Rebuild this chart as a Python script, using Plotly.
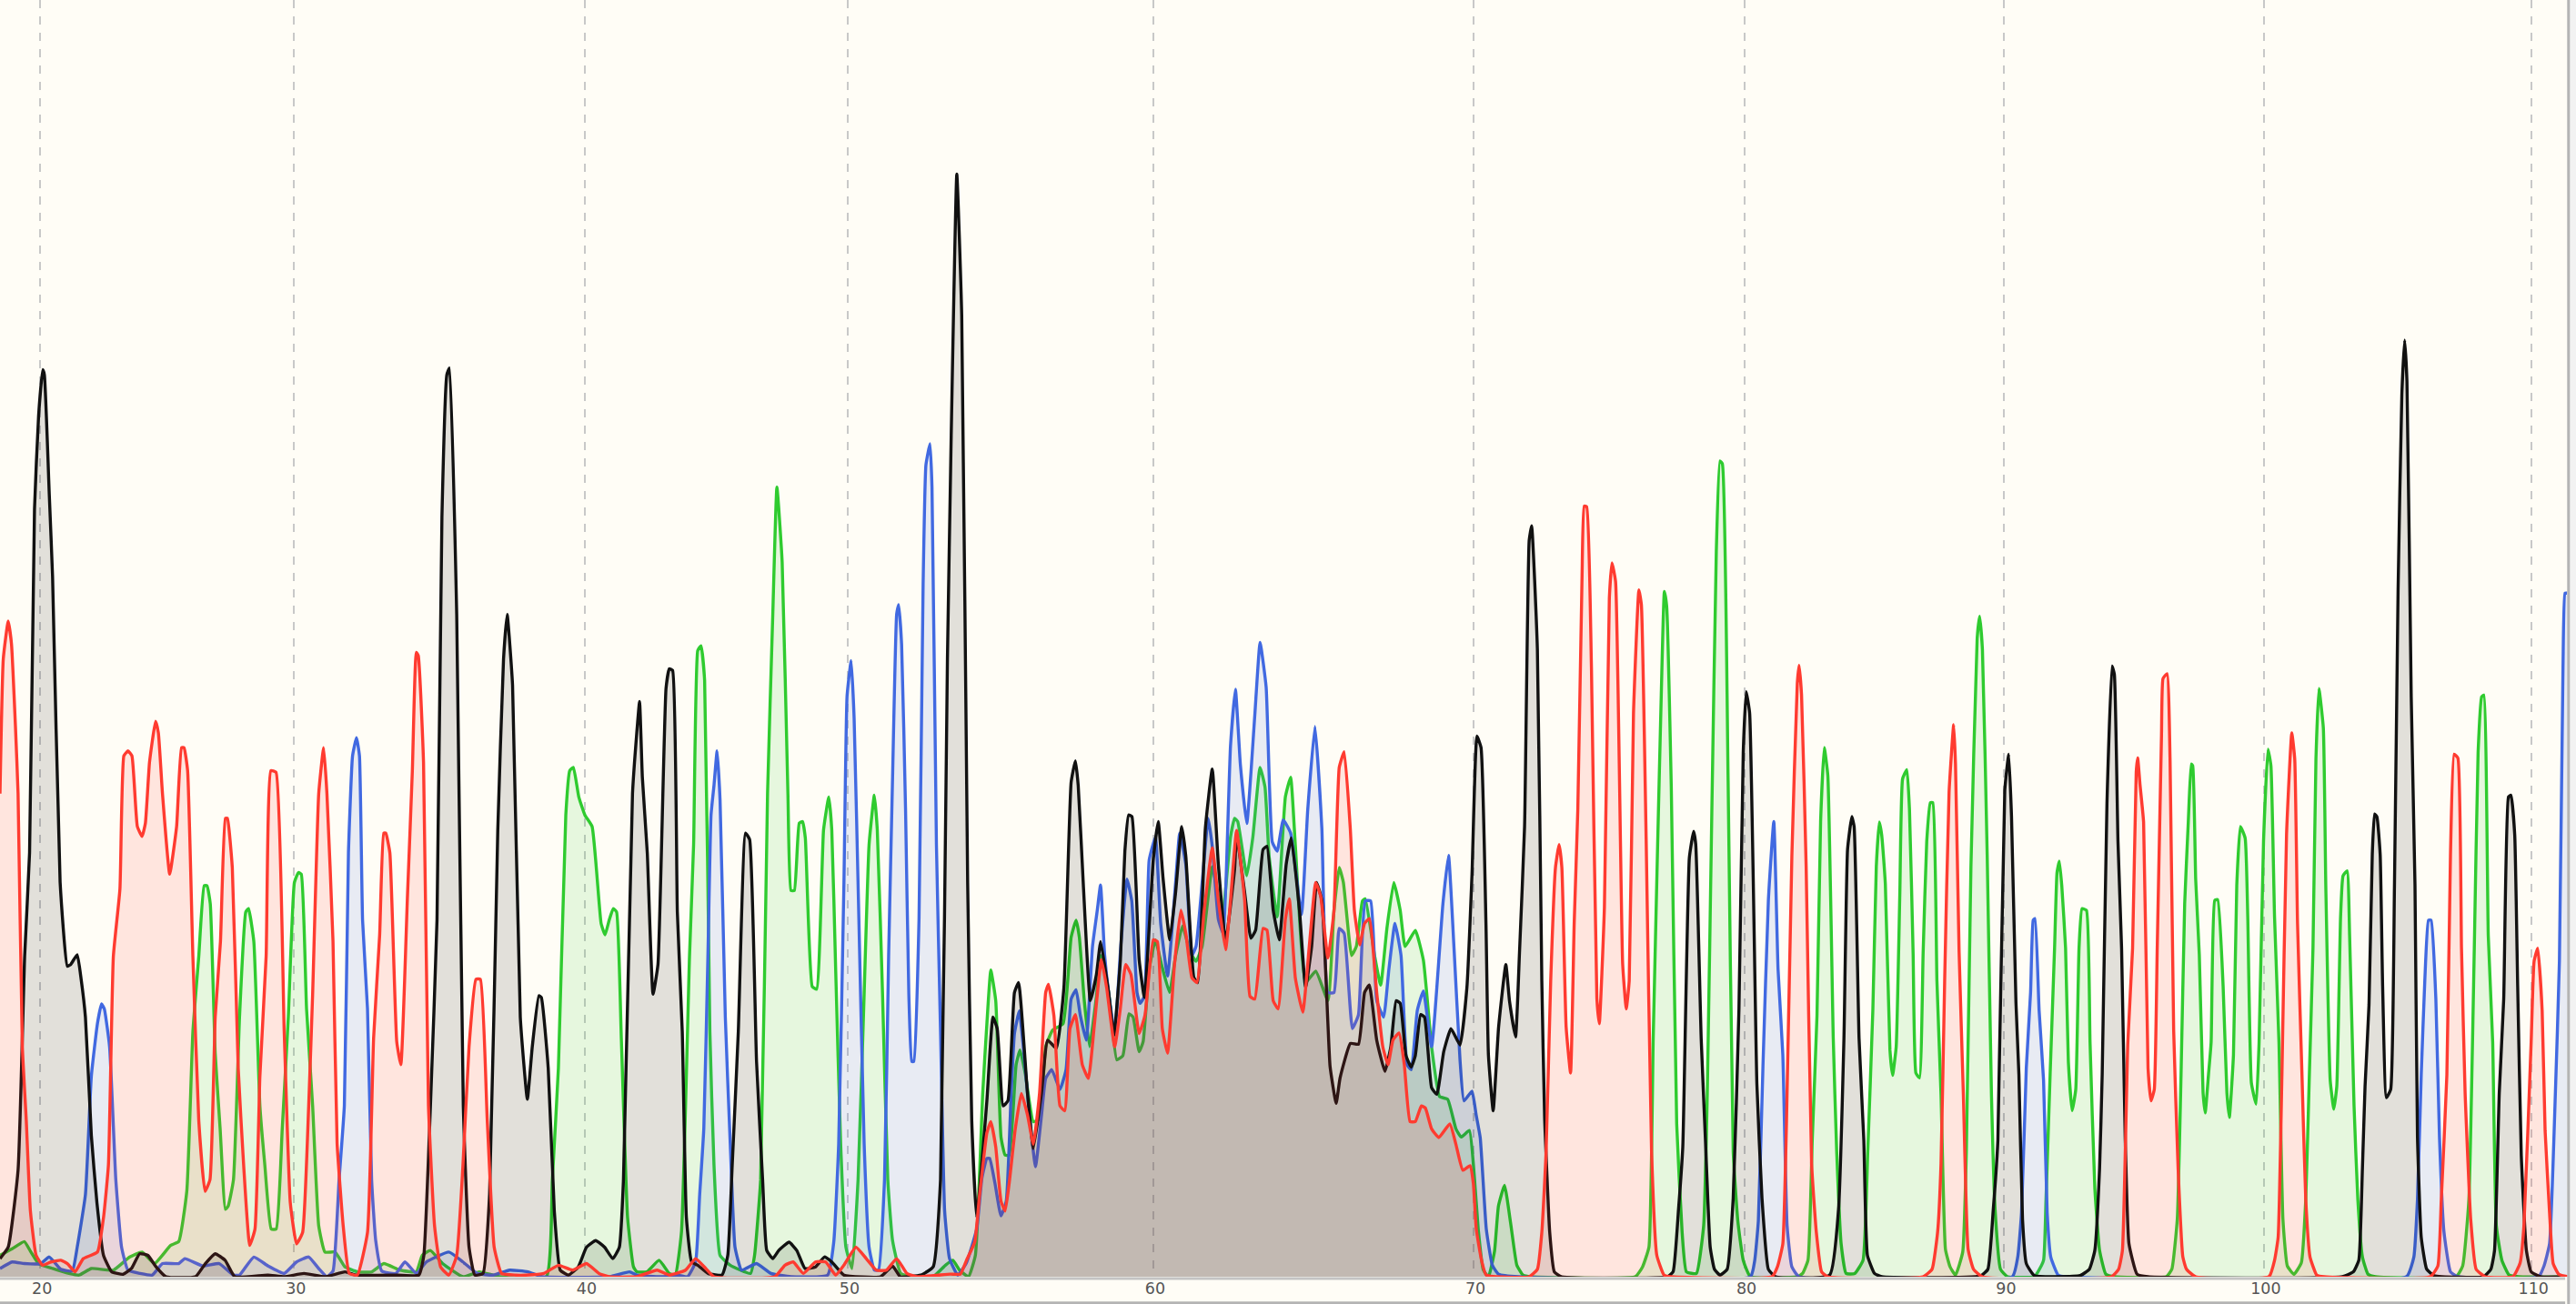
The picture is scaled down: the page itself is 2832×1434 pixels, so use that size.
import plotly.graph_objects as go

tick_positions = [24.5, 179, 356, 516, 702, 897, 1062, 1220, 1378, 1541]
tick_labels = ["20", "30", "40", "50", "60", "70", "80", "90", "100", "110"]

black_trace = [(0,11),(5,18),(11,65),(15,195),(18,258),(21,467),(23.5,524),(26,552),(27,549),(30,476),(32,426),(36.6,240),(41,189),(43,190),(47,196),(49.4,181),(52,158),(55.6,86),(59,45),(63,13),(68,3),(75,1.5),(80,5),(85,14),(90,13),(95,6),(101,0),(119,0),(125,8),(131,14),(137,10),(143,0),(163,1),(173,0),(185,2),(198,0),(210,3),(217,1),(242,1),(255,1),(258,13),(262,104),(266,217),(269,462),(272,549),(273.6,553),(278,403),(282,104),(285.5,18),(289,1),(294,2),(298,50),(303,272),(306.5,376),(308.7,403),(312,360),(316.7,158),(321,108),(324,140),(328,171),(329.5,170),(333.7,127),(337.4,40),(341,4),(346,1),(352,6),(357,18),(362.6,22),(368,18),(373,11),(377,18),(379.5,59),(385,294),(387.6,331),(389.3,350),(391,304),(394,258),(397.5,172),(400.5,190),(405.4,358),(407.4,370),(409.4,369),(412.3,222),(415.3,149),(417.8,36),(421,9),(424.7,7),(431,2),(439.5,1),(443,13),(445.7,68),(449.4,149),(453.8,270),(456.3,266),(460.5,131),(464.2,59),(466.7,16),(470.4,11),(474,16),(480.3,21),(485,16),(490,5),(496.4,6),(501.8,12),(506.3,9),(513.7,1),(536,0),(543.3,6.5),(548,0),(560.6,1),(568,6),(572.5,59),(576.7,376),(579,512),(582.4,671),(585.4,585),(589,240),(591.5,95),(594.5,36),(600.7,107),(604.4,158),(607,151),(610.6,104),(613.5,107),(617.5,173),(620,179),(625.4,112),(629,78),(634,112),(637.7,144),(643,139),(647.6,176),(652,301),(654.6,314),(656.3,299),(659.5,237),(663.7,168),(667.4,184),(670,204),(674.8,173),(678,147),(682,193),(684.7,259),(687,281),(689,280),(693.4,193),(696.6,170),(702,254),(705,277),(708,242),(712,205),(715.6,234),(719.3,274),(721.8,256),(726.7,182),(729,179),(733.7,273),(737.9,309),(741.6,251),(746,204),(751.5,248),(752.7,269),(757.6,234),(761.4,206),(764.3,211),(768.8,260),(771.2,262),(775,223),(778.7,205),(782.9,251),(786,267),(791,223),(794.7,176),(798.4,201),(801.4,240),(804.6,229),(808.3,154),(809.6,128),(813.3,105.5),(815.7,121),(822,142),(826.9,141.5),(830.6,173),(833.5,177.5),(838,144),(843,125),(846.6,140),(849.8,168),(852.3,166.4),(855.8,134.6),(859,127.6),(861.5,134.6),(864.7,159.5),(867.1,158),(871.4,115),(874.6,111),(878.8,137),(883.2,151),(888.7,141),(892.9,176),(896,245),(899,329),(901.5,322),(904.5,215),(906,135),(908.9,101),(912.2,152),(916.6,190),(918.8,168),(922.5,146),(924.9,197),(928,274),(930.8,448),(932.3,457),(935.8,382),(938.5,180),(940.2,97),(943.3,27),(946.1,3),(950.5,0),(1015,0),(1018.4,3),(1021.7,41),(1024.3,79),(1028.3,255),(1030.9,271),(1032.2,263),(1035.5,145),(1038.1,83),(1041,18),(1043.6,4.5),(1047,1),(1051.3,4.5),(1055,48),(1058.5,163),(1061.1,319),(1062.9,356),(1065,343),(1069.4,117.5),(1072.5,48),(1076.4,4.5),(1080.8,0),(1113.7,1),(1119.1,41),(1122.4,145),(1124.6,260),(1127.2,280),(1128.6,274),(1131.6,145),(1134.5,83),(1136.7,13),(1141,2),(1145.4,0),(1205.6,0.5),(1210,4.5),(1213.3,41),(1216.1,83),(1220.3,296),(1222.7,318),(1224.4,280),(1227.1,167),(1228.9,123),(1231.1,35),(1233.4,8),(1238.3,0.7),(1266.2,0.7),(1271.8,4.6),(1275.1,16),(1278,66),(1279.6,123),(1282.5,288),(1285.6,371.6),(1287,366.6),(1289.2,265),(1291.4,200),(1293.6,85),(1295.9,20),(1300.8,1.6),(1307.5,0),(1425.8,0),(1432.5,3),(1435.8,10),(1438,66),(1439.6,116),(1442,165.5),(1444,257),(1445.4,281.6),(1446.8,280),(1448.8,257),(1450.3,177),(1452.6,109),(1455.2,114),(1457.5,238),(1459.7,418),(1462,537),(1463.7,570),(1465.1,545),(1467.7,353),(1470,238),(1471.5,85),(1473.8,24),(1477.1,4.6),(1481.6,0.7),(1511.7,0),(1516.2,4.6),(1518.4,16),(1521.3,112),(1524,169),(1526.9,292),(1528.4,293),(1530.7,269),(1532.5,177),(1534.7,73.6),(1537.8,16),(1540.7,3),(1546.3,0),(1563,0)]

red_trace = [(0,294),(2,376),(5,399),(7,385),(9.4,335),(11,294),(13.6,140),(16,95),(18.5,40),(22,13),(26,7),(31,9),(37,10),(41,8),(45.7,3),(50.7,11),(59.3,15),(63,36),(66,68),(69,195),(73,236),(75.4,317),(77.9,320),(80.3,317),(83.6,274),(86.5,268),(88.5,276),(91,313),(94.7,338),(96.4,331),(98.9,294),(103.3,245),(107.5,274),(110.5,322),(112,322),(114.2,308),(117.4,195),(121,95),(124.8,52),(127.8,59),(131,158),(134.2,204),(137.2,279),(138.4,279),(141.4,249),(145,127),(148.3,68),(152,19),(155.2,29),(158.2,122),(162,195),(164.9,308),(168,307),(173,149),(176.7,45),(180.5,20),(184.2,27),(187.9,104),(190.3,172),(194,294),(197,322),(199,294),(202.7,204),(205.2,81),(208.9,31),(212.6,2),(217.5,1),(223.7,27),(227.4,145),(231.1,208),(233.6,270),(234.8,270),(237.3,258),(241.5,143),(244,129),(248,231),(251,308),(253.4,380),(254.6,378),(257.8,313),(260.8,104),(264.5,31),(268.2,6),(273.2,1),(278,13),(281.8,68),(285.5,140),(289.7,181),(292.4,181),(296.6,95),(300.8,18),(305.3,2),(314,1),(320,1),(331,2),(340,7),(348.6,4),(357,8),(364.6,2),(370.8,0),(387.6,0),(400,4),(407.4,1),(417.3,4),(423.4,11),(429.6,5),(434.6,0),(471.6,0),(477.8,7),(482.8,9),(489,2),(496.4,9),(502.6,9),(508.7,1),(513.7,7),(521,18),(527.3,11),(533.4,4),(539.6,4),(545.8,11),(552,2),(558,0),(578.4,1.6),(584.6,1.6),(588.3,10),(593.3,21),(596.2,49),(600.7,87.5),(603.1,94.4),(606.1,79),(609.3,46),(611.8,40),(614.3,57),(618,90),(621.7,111.6),(625.4,98.6),(629,80.6),(632.8,112),(636.5,173),(638.2,178),(641.5,159),(645.2,104),(648.1,101),(651.3,151),(654.6,159.5),(658.8,129),(662.5,120.7),(666.2,154),(670.4,193),(673.6,176),(678.5,140),(681.8,162),(685.2,190),(688.4,184),(693.4,148),(697,159.5),(702,205),(704.5,204),(707.5,151),(710.7,136),(714.9,190),(718.8,223),(721.8,209),(725.5,182),(728.5,179),(733,223),(737.9,261),(741.6,229),(746,199),(749,229),(752.7,271.6),(757.6,229),(760.9,170.6),(763.8,169),(768.8,212),(771.2,211),(775,168),(778,163),(782.4,217.6),(784.8,230),(788.5,181.6),(793,161),(797.2,204),(800.9,240),(803.9,231.5),(808.3,194),(812,223),(815.2,310),(818.2,319.5),(821.9,273),(824.4,223),(827.6,202),(830.6,215),(833.5,218),(838,173),(841.7,140),(844.9,129),(847.9,144),(851.6,148.4),(854.8,129),(858.3,94.4),(861.5,94.4),(865.2,104),(867.6,102.7),(871.4,90),(875.8,84.7),(882.5,93),(886.2,80.6),(890.4,64.8),(894.8,67.6),(896.8,57),(898.6,29),(901.8,10),(904.7,1),(930.8,0),(935.8,4.5),(938.5,27),(941.1,76),(943.9,180),(946.8,249),(949,263),(950.7,249),(953.3,152),(956,124),(958.2,215),(960.4,284),(963,427),(964.3,469),(965.8,468.6),(968.7,371),(972,169.6),(973.5,154),(976.6,225),(979.6,413),(981.2,434.5),(983.4,423),(987.7,190.4),(989.9,163),(991.7,180),(994.3,343),(997.6,418),(999.1,409),(1002,267),(1005.3,76),(1008.5,13),(1012.9,1),(1017.3,0),(1078.6,0),(1081.9,6),(1085.2,20),(1087.4,93),(1090.7,256),(1094,361),(1095.1,372),(1096.6,354),(1099.4,249.6),(1102.7,69),(1105.6,27),(1108.8,3),(1112.6,0),(1170.6,0),(1176,4.5),(1179.4,27),(1181.5,69),(1183.7,180),(1186.4,295),(1189.2,336),(1190.3,312),(1192.5,197.4),(1195.1,110.5),(1198,16.6),(1201.3,4.5),(1206.7,0),(1285.2,0),(1289.6,4.6),(1291.9,16),(1295.2,142.5),(1298.1,200),(1300.3,307),(1301.2,315.7),(1302.6,299.6),(1304.8,276.6),(1307.5,127),(1309.3,107),(1311.3,114),(1313.1,200),(1315.7,330),(1316.6,364),(1319.1,367),(1320.9,315),(1323.1,150),(1325.8,66),(1328.7,12),(1330.9,4.6),(1336.5,0),(1381.1,0),(1384.5,10),(1386.7,24),(1389,123),(1391.8,269),(1395,331),(1396.8,315),(1398.5,215),(1401.2,123),(1403.5,47),(1406.1,12),(1410.2,1),(1414.6,0),(1479.3,0),(1483.9,6.5),(1486,47),(1489.4,123),(1491.6,257),(1493.8,318),(1496.1,315.7),(1498.3,200),(1500.5,112),(1503.9,35),(1507.2,4.6),(1512.8,0),(1529.6,0),(1534,8.4),(1536.3,31),(1540.7,142.5),(1542.5,192),(1544.7,200),(1547.4,162),(1549.2,89),(1551.9,39),(1554.1,8),(1557.5,1.5),(1563,0)]

green_trace = [(0,13),(7.4,17),(14.8,21.4),(18.5,15.6),(23.5,8),(32,5),(42,2),(48.2,1),(55.6,5),(69,4),(79,12),(86.5,15),(94,8),(103.8,19),(108.8,21.4),(113.7,52),(117.4,149),(121,195),(124.3,238),(126,238),(128,227),(131,136),(134,90),(137.2,41),(138.9,43),(142.1,59),(145.8,158),(149.6,222),(151.3,224),(154.5,204),(158.2,104),(161.2,68),(165.1,29),(168.1,29),(171.8,90),(175.5,158),(179.2,240),(181.7,246),(183.4,245),(186.6,163),(190.3,104),(194,31),(197.8,15),(204,15),(210,6),(217.5,3),(226.2,3),(233.6,8),(243.5,4),(253.4,3),(257,13),(262,16),(269.4,8),(281.8,0),(291.7,3),(304,0),(332.5,0),(336.2,59),(339.9,127),(344.4,281),(346.8,308),(349,310),(352.3,292),(356,281),(360.4,274),(365.9,215),(368.3,208),(370.8,217),(373.3,224),(375.3,222),(378.2,145),(382,36),(385.6,6),(387.6,3),(393.8,3),(401.2,10),(407.4,2),(411,1),(414.8,27),(419.7,195),(422.2,263),(424.7,381),(426.7,384),(428.9,363),(432.1,149),(434.6,68),(438.3,13),(444.5,7),(456.8,2),(459.3,13),(463,59),(467.2,294),(470.4,403.4),(472.9,480.6),(476.1,435),(479.6,294),(481.5,235),(483.5,235),(486.5,276),(488.5,277),(490.2,267),(494.4,176.6),(497.1,175),(501.3,272),(504.5,292),(506.3,272),(508.7,186),(511.7,81),(514.9,18),(518.6,5),(522.3,59),(526,172),(529,263),(532.2,293),(534,272),(537.2,172),(540.4,59),(543.3,22),(548.3,2),(555.7,0),(568,0),(575.5,7),(580,10),(584.1,4),(589.5,0),(593.7,13),(598.2,112),(600.7,154),(603.1,186.6),(606.1,168),(609.3,85),(611.8,74),(614.3,74),(618.5,129),(620.9,138),(624.1,123.5),(629,94.4),(632.8,96),(636.5,140),(640.7,150),(647.1,154),(652,206.6),(655,217),(657,206.6),(660,168),(663.2,140),(667.4,170.6),(669.9,195.5),(674.8,173),(679.8,132),(683.5,134.6),(687.2,160),(689.7,158),(693.4,137),(695.8,143),(699.5,187),(703.3,205),(707,190),(711.9,173),(715.6,195.5),(719.8,213.5),(724.3,198),(728,192),(731.7,201),(737.9,249.5),(741.6,231.5),(744,217.6),(749,267.5),(751.5,279),(753.4,277),(758.9,244),(762.6,267.5),(767,310),(770,298),(772.5,256),(777.4,219),(782.4,292),(785.6,304),(788.5,262),(794.7,179),(800.9,186),(808.3,168),(812,223),(815.2,249),(817.7,240),(822.7,195.5),(825.6,201),(829.3,228.7),(831,230),(836.7,195.5),(840.4,177.5),(844.2,212),(848.4,240),(852.3,223),(855.3,201),(861.5,210.7),(866.4,192.7),(871.4,140),(876.3,109.6),(881.2,108),(886.2,90),(889.4,85),(894.4,89),(897.3,62.6),(899.8,29),(902.8,4.4),(906,0),(909.7,15.5),(912.1,43),(915.8,55.6),(919.6,32),(923.3,7),(927,1),(931.9,0),(995.4,0),(999.8,6),(1003.7,18),(1006.3,145),(1009,263),(1011.2,354),(1013.1,417),(1014.5,408),(1017.3,298),(1020.6,93),(1023.9,27),(1026.5,3),(1032.6,2),(1037,31),(1039.2,110.5),(1042,284),(1044.7,441),(1046.9,496.4),(1048.4,494.7),(1051.9,301.7),(1055,76),(1057.8,34),(1061.1,10),(1065.5,0),(1094,0),(1097.2,2),(1100.5,10),(1103.1,83),(1106,159),(1108.2,277),(1110.4,322),(1112.6,305),(1115.9,145),(1118,76),(1120.7,20),(1123.7,2),(1129,2),(1134,10),(1136.9,76),(1140,162.6),(1142.1,249.6),(1143.9,276.7),(1145.4,268.7),(1147.6,239),(1150.4,138),(1152,122.6),(1154.2,140),(1156.4,232),(1158.1,303),(1160.7,308.6),(1162.3,284),(1164.5,197),(1166.2,124),(1168.4,121),(1170.6,197),(1172.8,265),(1175,288.5),(1176.5,288.5),(1179,180),(1181.5,110.5),(1184.2,16.6),(1187,6),(1190.3,1),(1194.7,15),(1196.9,76),(1199.7,249.6),(1203.5,388.6),(1205,402),(1206.7,381.7),(1209.6,256.5),(1212.2,110.5),(1214.4,41),(1217.7,4.5),(1222,0),(1238.3,0),(1240.5,3),(1243.9,10),(1245.4,47),(1247.9,123),(1250.6,200),(1252.1,246),(1253.5,253),(1255,238),(1257.3,200),(1259,131),(1261.3,101),(1263.5,114),(1265.5,200),(1267.3,224),(1270,223),(1272.2,142.5),(1275.1,54),(1278,16),(1281.8,1.5),(1287.4,0),(1318.6,0),(1322,4.6),(1325.3,35),(1327.6,123),(1329.8,227),(1332,276.6),(1333.8,312),(1334.7,311),(1336.5,242),(1338.7,196),(1341,112),(1342.3,99.7),(1344.3,123),(1345.9,142.5),(1348.1,229),(1349.9,229.5),(1353.2,177),(1355.5,112),(1357,97),(1359.5,135),(1361.5,238),(1363.7,274),(1366.6,267),(1368.2,219),(1370.4,118),(1373.3,105),(1375.1,142.5),(1377.8,265),(1380.5,321),(1382.3,311),(1384.5,219),(1387.2,142.5),(1389.6,35),(1392.3,6.5),(1396.3,1.5),(1400.8,8.4),(1403.5,47),(1405.7,123),(1407.9,200),(1409.7,315),(1411.5,358),(1414.2,334),(1415.7,238),(1418.4,119.5),(1420.6,102),(1422.4,116),(1424.7,219),(1426.2,244),(1428.7,247),(1430.2,207.6),(1432.9,104),(1435.2,47),(1438,12),(1441.4,1.5),(1445.9,0),(1495,0),(1499,6.5),(1502.8,47),(1506.1,200),(1508.4,319),(1510.6,353),(1511.9,354),(1514.6,207.6),(1517.3,142.5),(1519.5,31),(1522.9,10),(1527.3,1),(1533,0),(1563,0)]

blue_trace = [(0,5),(7.4,9),(14.8,8),(24.7,8),(30,12),(37,4.5),(44,3.5),(47,18),(52,50),(55.6,122),(59.3,154),(61.8,166),(63.5,163),(66.7,140),(70.5,59),(74,18),(77.9,4),(85.3,2),(92.7,1),(98.9,8),(108.8,8),(112.5,11),(123.6,6.5),(133.5,8),(142,1),(145.8,1),(154.5,12),(163.2,6.5),(173,2),(180.5,9),(187.9,12),(194,5),(199,0),(202.7,3.5),(206.4,59),(209.6,104),(212.1,258),(214.6,317),(217,328),(218.8,317),(220.7,217),(223.7,163),(226.2,59),(228.7,22),(232.4,3.5),(241,2),(246.5,9),(253.4,2),(259.6,9),(273.2,15),(281.8,9),(290.5,2),(300.3,1),(310.2,4),(321.4,3),(330,0),(370.8,0),(383.2,3),(387.6,1),(402.4,0),(412.3,1),(418.5,0),(423.4,9),(425.9,50),(428.4,90),(430.9,195),(432.8,281),(434.6,299),(436.5,320),(438.3,290),(441.5,158),(444.5,81),(447.4,18),(451.4,4),(460.5,8),(469.2,2),(481.5,0),(503.8,1),(507.5,21),(510.5,81),(513.7,240),(515.6,353.5),(518.1,375),(519.9,340),(522.8,217.4),(526,81),(529,18),(532.2,4),(534.7,4),(538.4,59),(540.9,195),(543.3,304),(545.8,403.4),(547,409),(548.8,385),(551.2,285),(553.2,172),(555,131),(556.2,131),(559.4,217.4),(561.9,421.6),(563.6,494),(566.1,507),(567.3,480.6),(570,263),(572.5,149),(575,40),(578,11),(583,1),(588.3,8.6),(594.5,29),(597.7,60),(600.7,72),(602.4,72),(605.6,57),(609.3,37),(612.5,46),(615.5,112),(617.5,148),(620.4,161.7),(622.9,140),(626.6,98.6),(630.3,67),(634,98.6),(636.5,120.7),(640.2,126),(645.2,114),(648.9,126),(652,169),(655,174.7),(657.5,159.5),(661.2,144),(665,201),(667.9,223),(669.9,238.4),(672.4,195.5),(674.8,173),(678.5,148),(682.2,201),(686,242),(688.9,228.7),(692.1,173),(693.9,166.4),(696.6,170.6),(699.5,253.6),(703.3,267.5),(706.5,215),(710.7,183),(715.6,240),(718.1,270),(721.8,250.9),(725.5,195.5),(728,201),(732.2,245),(735.4,279),(737.9,262),(741.6,217.6),(744.5,209),(749,323),(752,357.5),(755,311.8),(758.9,275.8),(763.8,342),(767,386),(770.7,358.8),(774.4,264.7),(777.4,259),(781.1,278),(785.6,270),(792.2,220.4),(796,284),(800.4,334.8),(804.6,273),(808.3,173),(812,173),(815.2,212),(818.2,209),(823.2,151),(826.9,159.5),(831,228.7),(834.3,228.7),(838,168),(842.2,158),(845.4,187),(849.1,215),(852.8,195.5),(856.5,129),(859,126),(862.7,162),(866.4,174),(871.4,140),(878.3,227),(881.7,256.4),(885,201),(888.7,132),(891.1,107),(896,113),(898.5,98.6),(901,84.7),(904.7,29),(908.4,7),(912.1,1.6),(924.5,0),(1065.5,0),(1068.1,10),(1070.3,34),(1073.1,128),(1076.4,229),(1079.7,277),(1082.3,187),(1085.2,135),(1087.8,31),(1090.7,6),(1095.1,0),(1224.9,0),(1228.2,12),(1230.5,39),(1233.4,127),(1236,173),(1237.6,217),(1238.7,218),(1241.2,162),(1243.9,119.6),(1246.1,39),(1248.3,12),(1252.8,1),(1257.3,0),(1464.8,0),(1469.3,12),(1471.5,47),(1473.8,123),(1476,181),(1478.2,217),(1479.8,217),(1482.7,169),(1484.9,85),(1487.6,27.6),(1491.6,3),(1496.1,0),(1545.2,0),(1548.5,6.5),(1551.9,20),(1555.2,104),(1557.9,192),(1560.1,372),(1561.3,416),(1562.6,416)]

channels = [
    ("G", green_trace, "#2FCB2F", "rgba(47,203,47,0.12)"),
    ("C", blue_trace, "#4169E1", "rgba(65,105,225,0.12)"),
    ("T", black_trace, "#111111", "rgba(0,0,0,0.115)"),
    ("A", red_trace, "#FF3B30", "rgba(255,59,48,0.12)"),
]

fig = go.Figure()
for name, pts, color, fill in channels:
    fig.add_trace(go.Scatter(
        x=[p[0] for p in pts], y=[p[1] for p in pts], name=name, mode="lines",
        line=dict(color=color, width=3.4, shape="spline", smoothing=0.4),
        fill="tozeroy", fillcolor=fill, hoverinfo="skip", showlegend=False))

fig.update_layout(
    width=2832, height=1434, margin=dict(l=0, r=0, t=0, b=30),
    paper_bgcolor="#FFFDF6", plot_bgcolor="#FFFDF6", showlegend=False,
    shapes=[
        dict(type="line", xref="paper", yref="paper", x0=0, x1=0.9958, y0=-0.0205, y1=-0.0205,
             line=dict(color="#B4B4B4", width=3)),
        dict(type="rect", xref="paper", yref="paper", x0=0.9967, x1=1, y0=-0.0214, y1=1,
             fillcolor="#F2F2F2", line=dict(width=0), layer="above"),
        dict(type="line", xref="paper", yref="paper", x0=0.9971, x1=0.9971, y0=-0.0214, y1=1,
             line=dict(color="#B4B4B4", width=3), layer="above"),
    ],
)
fig.update_xaxes(range=[0, 1568], tickmode="array", tickvals=tick_positions, ticktext=tick_labels,
                 showgrid=True, gridcolor="#C8C8C8", gridwidth=1.5, griddash="dash", zeroline=False,
                 showline=False, ticks="",
                 tickfont=dict(family="DejaVu Sans", size=17.5, color="#555555"), ticklabelshift=2)
fig.update_yaxes(range=[0, 777], showticklabels=False, showgrid=False, zeroline=False, showline=False, ticks="")
fig.add_shape(type="line", xref="paper", yref="paper", x0=0, x1=0.9958, y0=-0.0014, y1=-0.0014,
              line=dict(color="#C4C4C4", width=3))

fig.write_html("out.html", config=dict(displayModeBar=False),
               post_script="document.body.style.margin='0';document.body.style.overflow='hidden';")
